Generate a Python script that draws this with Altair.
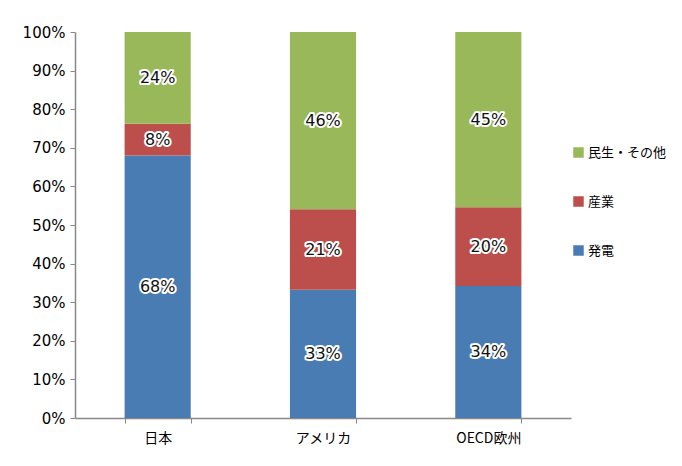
import altair as alt
import pandas as pd

regions = ["日本", "アメリカ", "OECD欧州"]
sectors = ["民生・その他", "産業", "発電"]
power = [68.0, 33.2, 34.2]
industry = [8.2, 20.9, 20.4]
residential = [23.8, 45.9, 45.4]
colors = ["#98B85A", "#BC4F4C", "#4A7CB4"]
stack_order = {"発電": 0, "産業": 1, "民生・その他": 2}
y_ticks = list(range(0, 101, 10))

rows = []
for i, r in enumerate(regions):
    for s, vals in (("発電", power), ("産業", industry), ("民生・その他", residential)):
        rows.append({"region": r, "sector": s, "value": vals[i], "ord": stack_order[s]})
df = pd.DataFrame(rows)

FONT = "Noto Sans CJK JP"
NUMFONT = "DejaVu Sans"

x_axis = alt.Axis(labelAngle=0, labelFont=FONT, labelFontSize=14, labelColor="#000",
                  domainColor="#888", tickColor="#888", tickBand="extent",
                  tickSize=5, labelPadding=8, domainWidth=1.5)
y_axis = alt.Axis(values=y_ticks, labelExpr="datum.value + '%'",
                  labelFont=NUMFONT, labelFontSize=15, labelColor="#000",
                  labelOverlap=False,
                  domainColor="#888", tickColor="#888", tickSize=5,
                  labelPadding=5, grid=False, domainWidth=1.5)
x_scale = alt.Scale(paddingInner=0.6, paddingOuter=0.3)
y_scale = alt.Scale(domain=[0, 100], nice=False)

base = alt.Chart(df)

bars = base.mark_bar().encode(
    x=alt.X("region:N", sort=regions, title=None, scale=x_scale, axis=x_axis),
    y=alt.Y("value:Q", stack="zero", title=None, scale=y_scale, axis=y_axis),
    color=alt.Color("sector:N", sort=sectors,
                    scale=alt.Scale(domain=sectors, range=colors),
                    legend=alt.Legend(title=None, orient="none", legendX=497, legendY=114,
                                      symbolType="square", symbolSize=110, symbolStrokeWidth=0,
                                      labelFont=FONT, labelFontSize=13, labelColor="#000",
                                      rowPadding=35, labelOffset=3, labelLimit=200)),
    order=alt.Order("ord:Q"),
)

text_base = base.transform_stack(
    stack="value", groupby=["region"], as_=["v0", "v1"], sort=[alt.SortField("ord")]
).transform_calculate(
    mid="(datum.v0 + datum.v1) / 2",
    label="round(datum.value) + '%'",
)

tx = alt.X("region:N", sort=regions, title=None, scale=x_scale, axis=x_axis)
ty = alt.Y("mid:Q", title=None, scale=y_scale, axis=y_axis)

halo = text_base.mark_text(font=NUMFONT, fontSize=16, stroke="white", strokeWidth=4,
                           strokeJoin="round", fill="white").encode(x=tx, y=ty, text="label:N")
txt = text_base.mark_text(font=NUMFONT, fontSize=16, fill="#111").encode(x=tx, y=ty, text="label:N")

chart = alt.layer(bars, halo, txt).properties(
    width=496, height=386,
    autosize=alt.AutoSizeParams(type="none"),
    padding={"left": 67, "top": 24, "right": 103, "bottom": 40},
).configure(background="white").configure_view(stroke=None)

chart.save("out.html", embed_options={"renderer": "svg", "actions": False})
